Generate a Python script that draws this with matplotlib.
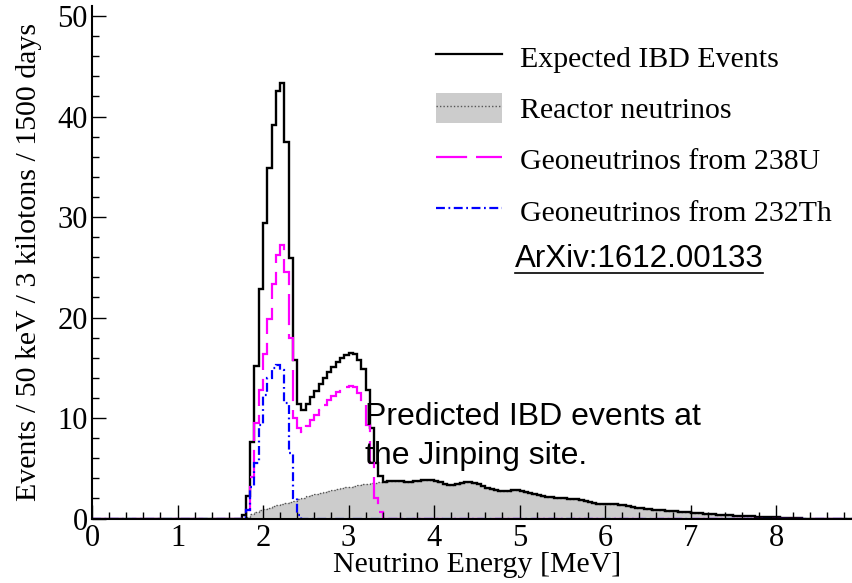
#!/usr/bin/env python3
"""
Expected IBD spectrum at Jinping (reactor + geoneutrinos), 50 keV bins.
"""

import numpy as np
import matplotlib
matplotlib.use("Agg")
import matplotlib.pyplot as plt
from matplotlib.lines import Line2D
from matplotlib.patches import Patch
from matplotlib.ticker import MultipleLocator

plt.rcParams['font.family'] = ['Liberation Serif', 'DejaVu Serif']

# 50 keV binning, 0 - 9 MeV
bin_width = 0.05
e_max = 9.0

# Expected IBD events (sum of all), first bin starts at 1.75 MeV
total_start = 1.75
total_vals = [
    0.3, 2.2, 7.6, 15.2, 22.8, 29.4, 34.9, 39.2, 42.5, 43.3,
    37.5, 25.9, 15.8, 11.4, 10.8, 11.4, 12.1, 12.7, 13.4, 14.0,
    14.6, 15.1, 15.6, 16.0, 16.3, 16.5, 16.4, 15.8, 14.9, 12.8,
    9.0, 5.5, 4.2,
    3.6, 3.7, 3.7, 3.7, 3.7, 3.6, 3.6, 3.7, 3.7, 3.8,
    3.8, 3.8, 3.7, 3.6, 3.4, 3.3, 3.3, 3.4, 3.5, 3.6,
    3.6, 3.5, 3.4, 3.2, 3.0, 2.9, 2.8, 2.7, 2.7, 2.7,
    2.8, 2.8, 2.7, 2.6, 2.5, 2.4, 2.3, 2.2, 2.1, 2.1,
    2.0, 2.0, 2.0, 1.9, 1.9, 1.9, 1.8, 1.7, 1.6, 1.5,
    1.4, 1.4, 1.4, 1.4, 1.4, 1.3, 1.3, 1.2, 1.1, 1.0,
    1.0, 0.9, 0.9, 0.8, 0.8, 0.8, 0.7, 0.7, 0.7, 0.6,
    0.6, 0.6, 0.5, 0.5, 0.5, 0.4, 0.4, 0.4, 0.3, 0.3,
    0.3, 0.3, 0.2, 0.2, 0.2, 0.2, 0.2, 0.15, 0.15, 0.1,
    0.1, 0.1, 0.1, 0.05, 0.05, 0.05, 0.03, 0.02,
]

# Reactor neutrinos, from 1.80 MeV
reactor_start = 1.80
reactor_vals = [
    0.1, 0.4, 0.6, 0.8, 0.9, 1.0, 1.2, 1.3, 1.4, 1.5,
    1.6, 1.7, 1.9, 2.0, 2.2, 2.3, 2.4, 2.5, 2.6, 2.7,
    2.8, 2.9, 3.0, 3.1, 3.1, 3.2, 3.3, 3.4, 3.4, 3.5,
    3.5, 3.6, 3.6, 3.7, 3.7, 3.7, 3.7, 3.6, 3.6, 3.7,
    3.7, 3.8, 3.8, 3.8, 3.7, 3.6, 3.4, 3.3, 3.3, 3.4,
    3.5, 3.6, 3.6, 3.5, 3.4, 3.2, 3.0, 2.9, 2.8, 2.7,
    2.7, 2.7, 2.8, 2.8, 2.7, 2.6, 2.5, 2.4, 2.3, 2.2,
    2.1, 2.1, 2.0, 2.0, 2.0, 1.9, 1.9, 1.9, 1.8, 1.7,
    1.6, 1.5, 1.4, 1.4, 1.4, 1.4, 1.4, 1.3, 1.3, 1.2,
    1.1, 1.0, 1.0, 0.9, 0.9, 0.8, 0.8, 0.8, 0.7, 0.7,
    0.7, 0.6, 0.6, 0.6, 0.5, 0.5, 0.5, 0.4, 0.4, 0.4,
    0.3, 0.3, 0.3, 0.3, 0.2, 0.2, 0.2, 0.2, 0.2, 0.15,
    0.15, 0.1, 0.1, 0.1, 0.1, 0.05, 0.05, 0.05, 0.03, 0.02,
]

# Geoneutrinos from 238U, from 1.75 MeV
u_start = 1.75
u_vals = [
    0.1, 0.8, 4.1, 9.5, 12.8, 16.4, 19.9, 23.3, 26.2, 27.2,
    24.5, 18.0, 10.0, 9.0, 8.6, 9.2, 9.8, 10.3, 10.8, 11.3,
    11.8, 12.2, 12.6, 12.9, 13.1, 13.2, 13.1, 12.5, 11.5, 9.3,
    5.5, 2.0, 0.6,
]

# Geoneutrinos from 232Th, from 1.75 MeV
th_start = 1.75
th_vals = [
    0.1, 0.8, 3.1, 5.5, 9.3, 12.3, 14.0, 15.0, 15.3, 14.8,
    11.5, 6.5, 2.0, 0.3,
]

edges = np.linspace(0, e_max, int(round(e_max / bin_width)) + 1)
n_bins = len(edges) - 1


def to_bins(start, vals):
    """Put a list of bin contents into the full 0-9 MeV histogram"""
    h = np.zeros(n_bins)
    i0 = int(round(start / bin_width))
    h[i0:i0 + len(vals)] = vals
    return h


total = to_bins(total_start, total_vals)
reactor = to_bins(reactor_start, reactor_vals)
u238 = to_bins(u_start, u_vals)
th232 = to_bins(th_start, th_vals)

W, H = 853, 583
fig = plt.figure(figsize=(W / 100, H / 100), dpi=100)
ax = fig.add_axes([92 / W, 1 - 518.5 / H, 761 / W, 512.5 / H])

# histograms
ax.stairs(reactor, edges, fill=True, color='#cccccc', lw=0)
ax.stairs(reactor, edges, color='#555555', lw=1.0, ls=(0, (1, 1.5)))
ax.stairs(total, edges, color='black', lw=1.7)
ax.stairs(u238, edges, color='#ff00ff', lw=1.6, ls=(0, (14, 4)))
ax.stairs(th232, edges, color='#0000ff', lw=1.6, ls=(0, (4, 1.6, 0.8, 1.6)))

ax.set_xlim(0, 8.9)
ax.set_ylim(0, 51)

for s in ['top', 'right']:
    ax.spines[s].set_visible(False)
for s in ['left', 'bottom']:
    ax.spines[s].set_linewidth(1.5)

ax.xaxis.set_major_locator(MultipleLocator(1))
ax.xaxis.set_minor_locator(MultipleLocator(0.2))
ax.yaxis.set_major_locator(MultipleLocator(10))
ax.yaxis.set_minor_locator(MultipleLocator(2))
ax.tick_params(which='both', direction='in', labelsize=22, width=1.0)
ax.tick_params(which='major', length=10)
ax.tick_params(which='minor', length=5)
ax.tick_params(axis='x', pad=4)
ax.tick_params(axis='y', pad=3)

ax.set_xlabel('Neutrino Energy [MeV]', fontsize=21.5)
ax.set_ylabel('Events / 50 keV / 3 kilotons / 1500 days', fontsize=21.5)
ax.xaxis.set_label_coords(0.506, -0.066)
ax.yaxis.set_label_coords(-0.066, 0.5)

# legend
handles = [
    Line2D([], [], color='black', lw=1.6),
    (Patch(facecolor='#cccccc', edgecolor='none'),
     Line2D([], [], color='#555555', lw=1.0, ls=(0, (1, 1.5)))),
    Line2D([], [], color='#ff00ff', lw=1.6, ls=(0, (14, 4))),
    Line2D([], [], color='#0000ff', lw=1.6, ls=(0, (4, 1.6, 0.8, 1.6))),
]
labels = ['Expected IBD Events', 'Reactor neutrinos',
          'Geoneutrinos from 238U', 'Geoneutrinos from 232Th']
ax.legend(handles, labels, loc='upper left',
          bbox_to_anchor=(436 / W, 1 - 42 / H), bbox_transform=fig.transFigure,
          frameon=False, fontsize=21.5, handlelength=2.2, handleheight=1.15,
          handletextpad=0.6, labelspacing=0.68, borderpad=0, borderaxespad=0)

# annotations
sans = ['Liberation Sans', 'DejaVu Sans']
arx = fig.text(639 / W, 1 - 259 / H, 'ArXiv:1612.00133', family=sans,
               fontsize=22.5, ha='center', va='center')
fig.text(365 / W, 1 - 402 / H, 'Predicted IBD events at\nthe Jinping site.',
         family=sans, fontsize=23, ha='left', va='top', linespacing=1.38)

# underline the arXiv reference
fig.canvas.draw()
bb = arx.get_window_extent()
y_ul = (bb.y0 + 1) / H
fig.add_artist(Line2D([bb.x0 / W, bb.x1 / W], [y_ul, y_ul],
                      transform=fig.transFigure, color='black', lw=1.2))

fig.savefig('out.png', dpi=100)
